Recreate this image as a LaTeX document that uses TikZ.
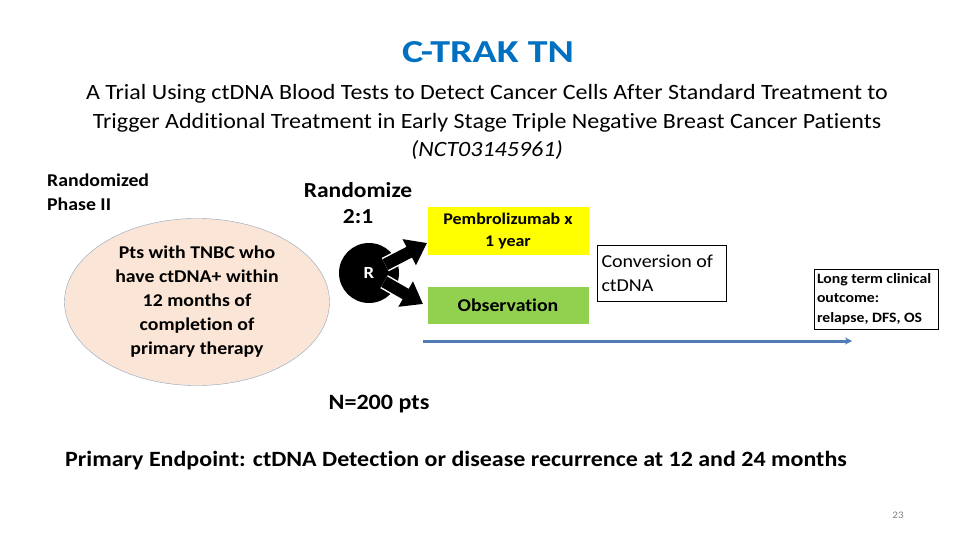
\documentclass[tikz,border=0pt]{standalone}
\usepackage{fontspec}
\setmainfont{Carlito}[FakeStretch=1.1, Ligatures=NoCommon]
\newfontfamily\titlefont{Carlito}[FakeStretch=1.25, Ligatures=NoCommon]
\usepackage{xcolor}
\usetikzlibrary{arrows.meta,positioning,shapes.geometric,calc}

\definecolor{titleblue}{HTML}{0070C0}
\definecolor{peach}{HTML}{FBE5D6}
\definecolor{ellline}{HTML}{8EA4BE}
\definecolor{pemyellow}{HTML}{FFFF00}
\definecolor{obsgreen}{HTML}{92D050}
\definecolor{timeblue}{RGB}{79,125,180}

\begin{document}
\begin{tikzpicture}[
  x=1pt, y=-1pt,
  node distance=8pt and 10pt,
  lbl/.style={font=\fontsize{18}{24}\selectfont\bfseries, align=left, inner sep=0pt},
  pop/.style={ellipse, draw=ellline, fill=peach, minimum width=265pt, minimum height=158pt, align=center, font=\fontsize{18}{24}\selectfont\bfseries},
  arm/.style={minimum width=161pt, align=center, inner sep=0pt, font=\fontsize{16.3}{22}\selectfont\bfseries},
  outbox/.style={draw, thick, align=flush left, inner sep=4pt},
  blk/.style={line width=12pt, -{Triangle[width=28pt,length=20pt]},
    preaction={draw=white, line width=15pt, -, shorten >=18pt}},
  tline/.style={draw=timeblue, line width=3pt, -{Stealth[length=7pt,width=7pt]}}
]
  \useasboundingbox (0,0) rectangle (960,540);

  % heading
  \node[font=\titlefont\fontsize{32}{36}\selectfont\bfseries, text=titleblue] (title) at (488,52) {C-TRAK TN};
  \node[font=\fontsize{21.8}{28.5}\selectfont, align=center] (sub) at (487,122)
    {A Trial Using ctDNA Blood Tests to Detect Cancer Cells After Standard Treatment to\\
     Trigger Additional Treatment in Early Stage Triple Negative Breast Cancer Patients\\
     \itshape (NCT03145961)};

  % left side
  \node[lbl, anchor=west] (phase) at (47,192) {Randomized\\Phase II};
  \node[pop] (pts) at (197,302) {Pts with TNBC who\\have ctDNA+ within\\12 months of\\completion of\\primary therapy};
  \node[font=\fontsize{21.4}{26}\selectfont\bfseries, align=center] (rlbl) at (358,203) {Randomize\\2:1};

  % randomisation
  \node[circle, fill=black, minimum size=60pt, text=white, font=\fontsize{17}{18}\selectfont\bfseries] (rnd) at (369,273) {R};
  \node[arm, fill=pemyellow, minimum height=48pt] (pem) at (508,231) {Pembrolizumab x\\1 year};
  \node[arm, fill=obsgreen, minimum height=37pt, font=\fontsize{18}{20}\selectfont\bfseries] (obs) at (508,305) {Observation};
  \coordinate (uptip) at (427,243);
  \coordinate (lowtip) at (423,304);
  \draw[blk] ($(rnd.center)!0.28!(uptip)$) -- (uptip);
  \draw[blk] ($(rnd.center)!0.28!(lowtip)$) -- (lowtip);

  % outcomes
  \node[outbox, font=\fontsize{18.2}{24}\selectfont, text width=121pt, minimum height=56pt] (conv) at (662,273) {Conversion of\\ctDNA};
  \node[outbox, inner sep=3pt, font=\fontsize{14.3}{19.5}\selectfont\bfseries, text width=118pt, minimum height=60pt] (lt) at (876,299) {Long term clinical\\outcome:\\relapse, DFS, OS};

  % timeline
  \coordinate (t0) at (423,341);
  \coordinate (t1) at (852,341);
  \draw[tline] (t0) -- (t1);

  \node[font=\fontsize{21.9}{24}\selectfont\bfseries] (npts) at (379,404) {N=200 pts};
  \node[font=\fontsize{21.8}{24}\selectfont\bfseries] (endpt) at (456,461) {Primary Endpoint: ctDNA Detection or disease recurrence at 12 and 24 months};
  \node[font=\fontsize{10}{12}\selectfont, text=gray] (pg) at (898,515) {23};
\end{tikzpicture}
\end{document}
